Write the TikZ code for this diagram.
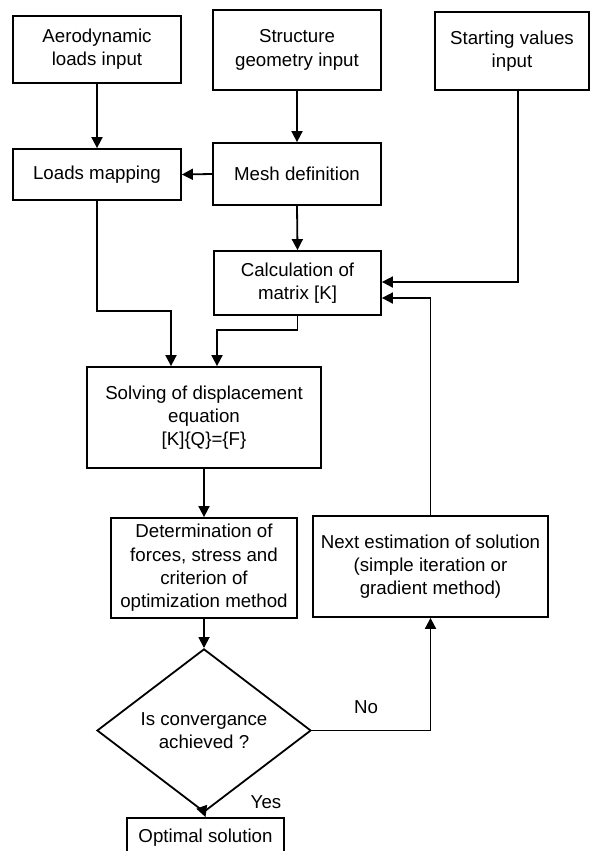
\documentclass[tikz,border=0pt]{standalone}
\usepackage{fontspec}
\setmainfont{Liberation Sans}
\usetikzlibrary{shapes.geometric,arrows.meta}
\begin{document}
\begin{tikzpicture}[x=1pt,y=-1pt,
  txt/.style={align=center,inner sep=0pt,font=\fontsize{18.7}{23.3}\selectfont},
  box/.style={txt,draw,line width=1.8pt,rectangle},
  arr/.style={line width=1.8pt,-{Triangle[length=11pt,width=11pt]}},
  ln/.style={line width=1.8pt}]
\useasboundingbox (0,0) rectangle (591,851);
\node[box,minimum width=168pt,minimum height=67pt] (aero) at (97,49.5) {Aerodynamic\\loads input};
\node[box,minimum width=168pt,minimum height=80pt] (struct) at (297,50) {Structure\\geometry input};
\node[box,minimum width=154pt,minimum height=78pt] (start) at (512,51) {Starting values\\input};
\node[box,minimum width=168pt,minimum height=51pt] (loads) at (97,174.5) {Loads mapping};
\node[box,minimum width=168pt,minimum height=62pt] (mesh) at (297,174) {Mesh definition};
\node[box,minimum width=167pt,minimum height=64pt] (calc) at (297.5,283) {Calculation of\\matrix [K]};
\node[box,minimum width=234pt,minimum height=101pt] (solve) at (204,417.5) {Solving of displacement\\equation\\{[K]\{Q\}=\{F\}}};
\node[box,minimum width=186pt,minimum height=100pt] (det) at (204,568) {Determination of\\forces, stress and\\criterion of\\optimization method};
\node[box,minimum width=235pt,minimum height=101pt] (next) at (430.5,566.5) {Next estimation of solution\\(simple iteration or\\gradient method)};
\node[txt,draw,line width=1.8pt,diamond,minimum width=214pt,minimum height=127pt] (dia) at (204,730.5) {Is convergance\\achieved ?};
\node[box,minimum width=157pt,minimum height=40pt] (opt) at (205.5,838) {Optimal solution};
\node[txt] (no) at (366,707) {No};
\node[txt] (yes) at (266,802) {Yes};
\coordinate (lj) at (171,311);
\draw[arr] (aero.south) -- (loads.north);
\draw[arr] (struct.south) -- (mesh.north);
\draw[arr] (mesh.west) -- (loads.east);
\draw[arr] (mesh.south) -- (calc.north);
\draw[arr] ([xshift=6pt]start.south) |- ([yshift=1pt]calc.east);
\draw[arr] (next.north) |- ([yshift=-15pt]calc.east);
\draw[arr] (calc.south) -- ++(0,14) -| ([xshift=13pt]solve.north);
\draw[arr] (loads.south) |- (lj) -- ([xshift=-33pt]solve.north);
\draw[arr] (solve.south) -- (det.north);
\draw[arr] (det.south) -- (dia.north);
\draw[arr] (dia.east) -| (next.south);
\draw[arr] (dia.south) -- (opt.north);
\end{tikzpicture}
\end{document}
